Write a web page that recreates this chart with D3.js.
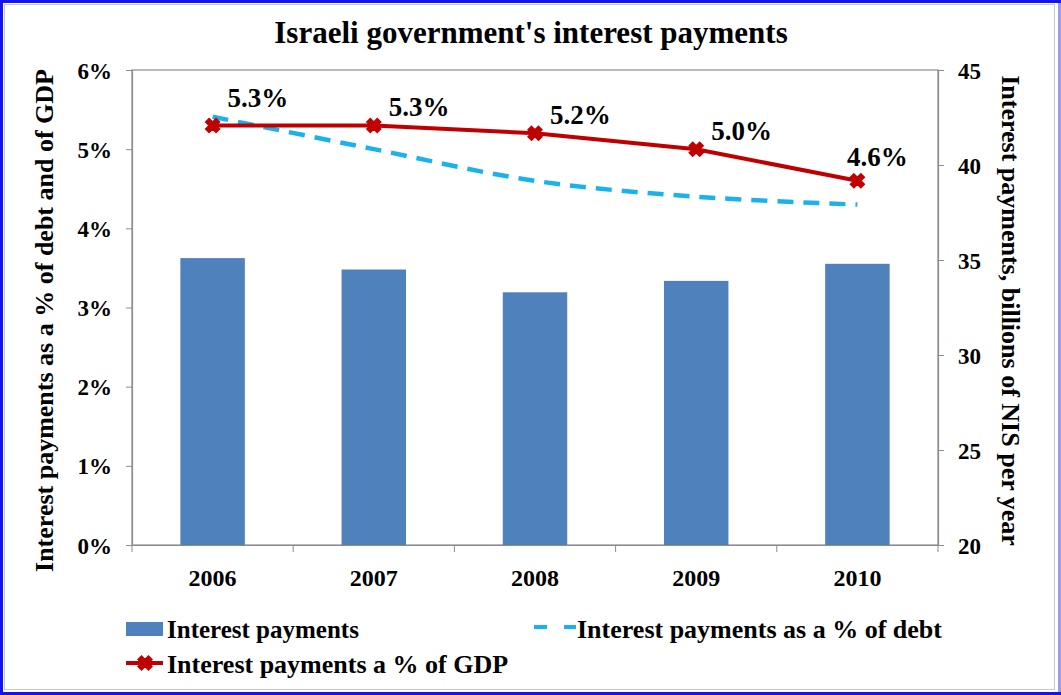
<!DOCTYPE html>
<html>
<head>
<meta charset="utf-8">
<script src="https://cdn.jsdelivr.net/npm/d3@7"></script>
<style>
  body { margin: 0; background: #fff; }
  svg text { font-family: "Liberation Serif", "Times New Roman", serif; font-weight: bold; fill: #000; }
</style>
</head>
<body>
<svg id="chart"></svg>
<script>
// chart values
const years = ["2006", "2007", "2008", "2009", "2010"];
const payments = [35.1, 34.5, 33.3, 33.9, 34.8];          // billions NIS, right axis
const pctDebt = [0.0541, 0.0500, 0.0460, 0.0440, 0.0430];  // left axis
const pctGdp = [0.053, 0.053, 0.052, 0.050, 0.046];        // left axis
const leftTicks = [0, 0.01, 0.02, 0.03, 0.04, 0.05, 0.06];
const rightTicks = [20, 25, 30, 35, 40, 45];

const W = 1061, H = 695;
const m = { left: 132, right: 938, top: 70, bottom: 545 };

const svg = d3.select("#chart").attr("width", W).attr("height", H);

// outer frame
svg.append("rect").attr("x", 1.5).attr("y", 1.5).attr("width", W - 3).attr("height", H - 3)
  .attr("fill", "#fff").attr("stroke", "#1414f0").attr("stroke-width", 3);
svg.append("rect").attr("x", 1058).attr("y", 3).attr("width", 3).attr("height", H - 6).attr("fill", "#9c9cec");
svg.append("rect").attr("x", 4.5).attr("y", 4.5).attr("width", W - 11).attr("height", H - 10)
  .attr("fill", "none").attr("stroke", "#c8c8c8").attr("stroke-width", 1);

var x = d3.scaleBand().domain(years).range([m.left, m.right]).paddingInner(0.6).paddingOuter(0.3);
var xb = d3.scaleBand().domain(years).range([m.left, m.right]);
var yL = d3.scaleLinear().domain([0, 0.06]).range([m.bottom, m.top]);
var yR = d3.scaleLinear().domain([20, 45]).range([m.bottom, m.top]);

// plot area border
svg.append("rect").attr("x", m.left).attr("y", m.top)
  .attr("width", m.right - m.left).attr("height", m.bottom - m.top)
  .attr("fill", "none").attr("stroke", "#8c8c8c").attr("stroke-width", 1.2);

// title
svg.append("text").attr("x", 531).attr("y", 43).attr("text-anchor", "middle")
  .style("font-size", "31px").text("Israeli government's interest payments");

// bars
svg.append("g").selectAll("rect").data(payments).enter().append("rect")
  .attr("x", (d, i) => x(years[i]))
  .attr("width", x.bandwidth())
  .attr("y", d => yR(d))
  .attr("height", d => yR(20) - yR(d))
  .attr("fill", "#4f81bd");

// left axis
var axL = svg.append("g").attr("transform", `translate(${m.left},0)`)
  .call(d3.axisLeft(yL).tickValues(leftTicks).tickFormat(d3.format(".0%")).tickSize(6).tickPadding(14));
axL.select(".domain").attr("stroke", "#8c8c8c").attr("stroke-width", 1.2);
axL.selectAll(".tick line").attr("stroke", "#8c8c8c");
axL.selectAll("text").style("font-size", "23px").attr("font-family", null).attr("dy", "0.35em");

// right axis
var axR = svg.append("g").attr("transform", `translate(${m.right},0)`)
  .call(d3.axisRight(yR).tickValues(rightTicks).tickSize(6).tickPadding(14));
axR.select(".domain").attr("stroke", "#8c8c8c").attr("stroke-width", 1.2);
axR.selectAll(".tick line").attr("stroke", "#8c8c8c");
axR.selectAll("text").style("font-size", "23px").attr("font-family", null).attr("dy", "0.35em");

// x axis
var axX = svg.append("g").attr("transform", `translate(0,${m.bottom})`)
  .call(d3.axisBottom(xb).tickSize(0).tickPadding(24));
axX.select(".domain").attr("stroke", "#8c8c8c").attr("stroke-width", 1.2);
axX.selectAll("text").style("font-size", "24px").attr("font-family", null);
svg.append("g").selectAll("line").data(years.concat(["end"])).enter().append("line")
  .attr("x1", (d, i) => i < years.length ? xb(d) : m.right)
  .attr("x2", (d, i) => i < years.length ? xb(d) : m.right)
  .attr("y1", m.bottom).attr("y2", m.bottom + 7)
  .attr("stroke", "#8c8c8c");

// axis titles
svg.append("text").attr("transform", `translate(53,${(m.top + m.bottom) / 2 + 13}) rotate(-90)`)
  .attr("text-anchor", "middle").style("font-size", "26px")
  .text("Interest payments as a % of debt and of GDP");
svg.append("text").attr("transform", `translate(1002,${(m.top + m.bottom) / 2 + 3}) rotate(90)`)
  .attr("text-anchor", "middle").style("font-size", "26px")
  .text("Interest payments, billions of NIS per year");

// % of debt, dashed smooth line
var cx = d => xb(d) + xb.bandwidth() / 2;
var lineDebt = d3.line().x((d, i) => cx(years[i])).y(d => yL(d)).curve(d3.curveCatmullRom.alpha(0.5));
svg.append("path").datum(pctDebt).attr("d", lineDebt)
  .attr("fill", "none").attr("stroke", "#1ab2ec").attr("stroke-width", 4.5)
  .attr("stroke-dasharray", "16,10");

// % of GDP, red line with x markers
var lineGdp = d3.line().x((d, i) => cx(years[i])).y(d => yL(d));
svg.append("path").datum(pctGdp).attr("d", lineGdp)
  .attr("fill", "none").attr("stroke", "#c00000").attr("stroke-width", 4);

var xMark = d3.symbol().type(d3.symbolCross).size(120);
svg.append("g").selectAll("path").data(pctGdp).enter().append("path")
  .attr("d", xMark)
  .attr("transform", (d, i) => `translate(${cx(years[i])},${yL(d)}) rotate(45)`)
  .attr("fill", "#c00000").attr("stroke", "#c00000").attr("stroke-width", 1.5);

// data labels
svg.append("g").selectAll("text").data(pctGdp).enter().append("text")
  .attr("x", (d, i) => cx(years[i]) + (i === years.length - 1 ? 20 : 15))
  .attr("y", (d, i) => yL(d) - (i === 0 ? 18 : i === years.length - 1 ? 15 : 9))
  .attr("text-anchor", (d, i) => i === years.length - 1 ? "middle" : "start")
  .style("font-size", "27px")
  .text(d => d3.format(".1%")(d));

// legend
var lg = svg.append("g");
lg.append("rect").attr("x", 126).attr("y", 622).attr("width", 37).attr("height", 14).attr("fill", "#4f81bd");
lg.append("text").attr("x", 167).attr("y", 638).style("font-size", "25px").text("Interest payments");

lg.append("line").attr("x1", 534).attr("x2", 576).attr("y1", 627).attr("y2", 627)
  .attr("stroke", "#1ab2ec").attr("stroke-width", 4).attr("stroke-dasharray", "13,17");
lg.append("text").attr("x", 577).attr("y", 638).style("font-size", "26px").text("Interest payments as a % of debt");

lg.append("line").attr("x1", 126).attr("x2", 163).attr("y1", 663).attr("y2", 663)
  .attr("stroke", "#c00000").attr("stroke-width", 4);
lg.append("path").attr("d", xMark).attr("transform", "translate(145,663) rotate(45)")
  .attr("fill", "#c00000").attr("stroke", "#c00000").attr("stroke-width", 1.5);
lg.append("text").attr("x", 167).attr("y", 673).style("font-size", "26px").text("Interest payments a % of GDP");
</script>
</body>
</html>
